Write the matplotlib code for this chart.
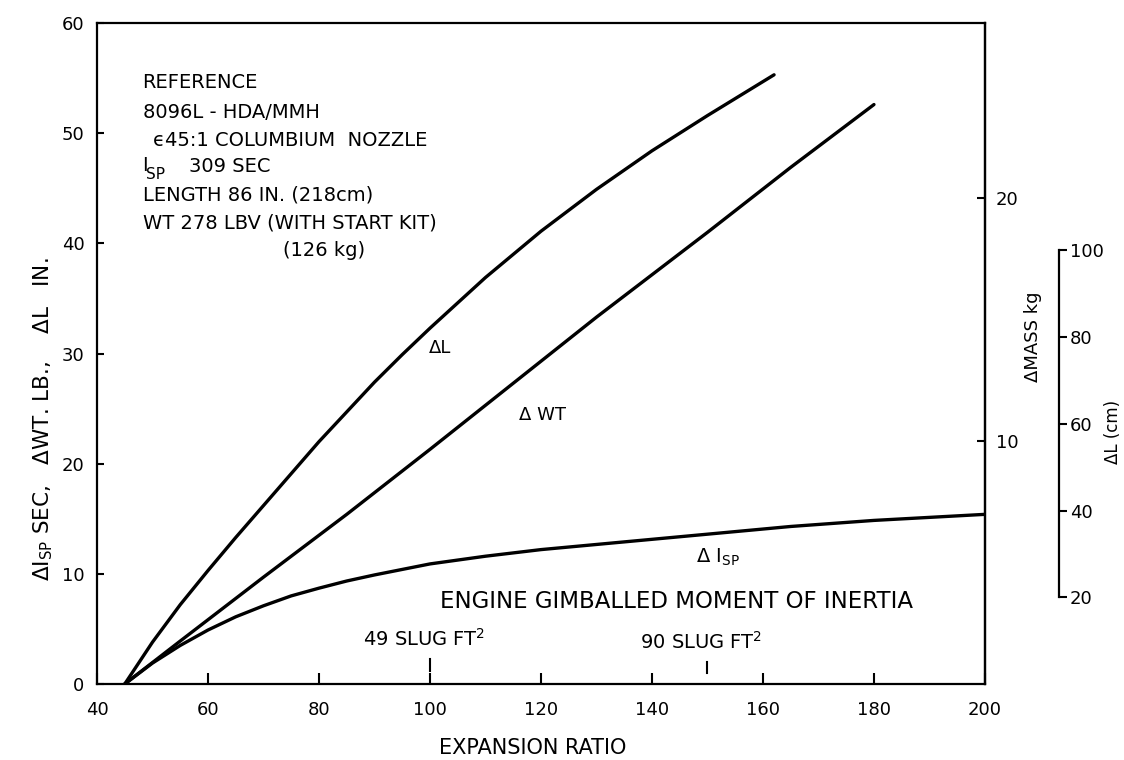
import matplotlib.pyplot as plt

plt.rcParams['font.family'] = ['DejaVu Sans']

# values (x = expansion ratio)
ratio_dl = [45, 50, 55, 60, 65, 70, 80, 90, 95, 100, 110, 120, 130, 140, 150, 162]
delta_l = [0, 3.8, 7.2, 10.3, 13.3, 16.2, 22.0, 27.4, 29.9, 32.3, 36.9, 41.1, 44.9, 48.4, 51.6, 55.3]

ratio_wt = [45, 55, 70, 85, 100, 115, 130, 150, 165, 180]
delta_wt = [0, 3.9, 9.7, 15.4, 21.3, 27.3, 33.3, 41.0, 46.9, 52.6]

ratio_isp = [45, 50, 55, 60, 65, 70, 75, 80, 85, 90, 100, 110, 120, 135, 150, 165, 180, 200]
delta_isp = [0, 1.9, 3.5, 4.9, 6.1, 7.1, 8.0, 8.7, 9.35, 9.9, 10.9, 11.6, 12.2, 12.9, 13.6, 14.3, 14.85, 15.4]

x_ticks = [40, 60, 80, 100, 120, 140, 160, 180, 200]
y_ticks = [0, 10, 20, 30, 40, 50, 60]
kg_ticks = [10, 20]
cm_ticks = [20, 40, 60, 80, 100]

LB_PER_KG = 2.2046
CM_PER_IN = 2.54

info_lines = [
    ("REFERENCE", 0.0, 82),
    ("8096L - HDA/MMH", 0.0, 112),
    ("\u03f545:1 COLUMBIUM  NOZZLE", 10, 140),
    ("LENGTH 86 IN. (218cm)", 0.0, 195),
    ("WT 278 LBV (WITH START KIT)", 0.0, 223),
    ("(126 kg)", 140, 250),
]

fig = plt.figure(figsize=(11.24, 7.6), dpi=100)
ax = fig.add_axes([0.0863, 0.1, 0.790, 0.8697])

ax.plot(ratio_dl, delta_l, color='black', lw=2.4, solid_capstyle='round', solid_joinstyle='round')
ax.plot(ratio_wt, delta_wt, color='black', lw=2.4, solid_capstyle='round', solid_joinstyle='round')
ax.plot(ratio_isp, delta_isp, color='black', lw=2.4, solid_capstyle='round', solid_joinstyle='round')

ax.set_xlim(40, 200)
ax.set_ylim(0, 60)
ax.set_xticks(x_ticks)
ax.set_yticks(y_ticks)
ax.tick_params(axis='x', direction='in', length=8, width=1.5, pad=12, labelsize=13)
ax.tick_params(axis='y', direction='in', length=5, width=1.5, pad=9, labelsize=13)
for s in ax.spines.values():
    s.set_linewidth(1.6)

ax.set_xlabel("EXPANSION RATIO", fontsize=15)
ax.xaxis.set_label_coords((533 - 97) / 888, -0.082)
ax.set_ylabel("\u0394I$_{\\mathrm{SP}}$ SEC,   \u0394WT. LB.,    \u0394L   IN.", fontsize=15.5)
ax.yaxis.set_label_coords(-0.047, 0.40)

# curve labels
ax.text(101.8, 30.5, "\u0394L", fontsize=13, va='center', ha='center')
ax.text(120.2, 24.4, "\u0394 WT", fontsize=13, va='center', ha='center')
ax.text(148.0, 11.5, "\u0394 I$_{\\mathrm{SP}}$", fontsize=14, va='center', ha='left')

# moment of inertia marks
ax.text(144.5, 7.5, "ENGINE GIMBALLED MOMENT OF INERTIA", fontsize=16.5, ha='center', va='center')
ax.text(99, 4.1, "49 SLUG FT$^{2}$", fontsize=14, ha='center', va='center')
ax.text(148.8, 3.8, "90 SLUG FT$^{2}$", fontsize=14, ha='center', va='center')
ax.plot([100, 100], [1.2, 2.3], color='black', lw=1.5)
ax.plot([150, 150], [1.0, 2.0], color='black', lw=1.5)

# reference engine block
px_to_y = lambda py: (684 - py) / 11.017
for txt, dx, py in info_lines:
    ax.text(48.2 + dx / 5.55, px_to_y(py), txt, fontsize=14, va='center', ha='left')
ax.text(48.2, px_to_y(165), "I", fontsize=14, va='center', ha='left')
ax.text(48.9, px_to_y(174), "SP", fontsize=11, va='center', ha='left')
ax.text(56.6, px_to_y(166), "309 SEC", fontsize=14, va='center', ha='left')

# mass axis (kg) on the right spine
ax2 = ax.twinx()
ax2.set_ylim(0, 60 / LB_PER_KG)
ax2.set_yticks(kg_ticks)
ax2.tick_params(axis='y', direction='in', length=6, width=1.5, pad=8, labelsize=13)
for k in ['top', 'bottom', 'left']:
    ax2.spines[k].set_visible(False)
ax2.spines['right'].set_linewidth(1.6)
ax2.set_ylabel("\u0394MASS kg", fontsize=13)
ax2.yaxis.set_label_coords((1024 - 97) / 888, (684 - 337) / 661)

# length axis (cm), offset to the right
ax3 = ax.twinx()
ax3.set_ylim(0, 60 * CM_PER_IN)
ax3.spines['right'].set_position(('axes', (1059 - 97) / 888))
ax3.spines['right'].set_bounds(20, 100)
ax3.spines['right'].set_linewidth(1.6)
for k in ['top', 'bottom', 'left']:
    ax3.spines[k].set_visible(False)
ax3.set_yticks(cm_ticks)
ax3.tick_params(axis='y', direction='out', length=6, width=1.5, pad=2, labelsize=13)
ax3.set_ylabel("\u0394L (cm)", fontsize=12)
ax3.yaxis.set_label_coords((1104 - 97) / 888, (684 - 432) / 661)

fig.savefig("out.png", dpi=100)
